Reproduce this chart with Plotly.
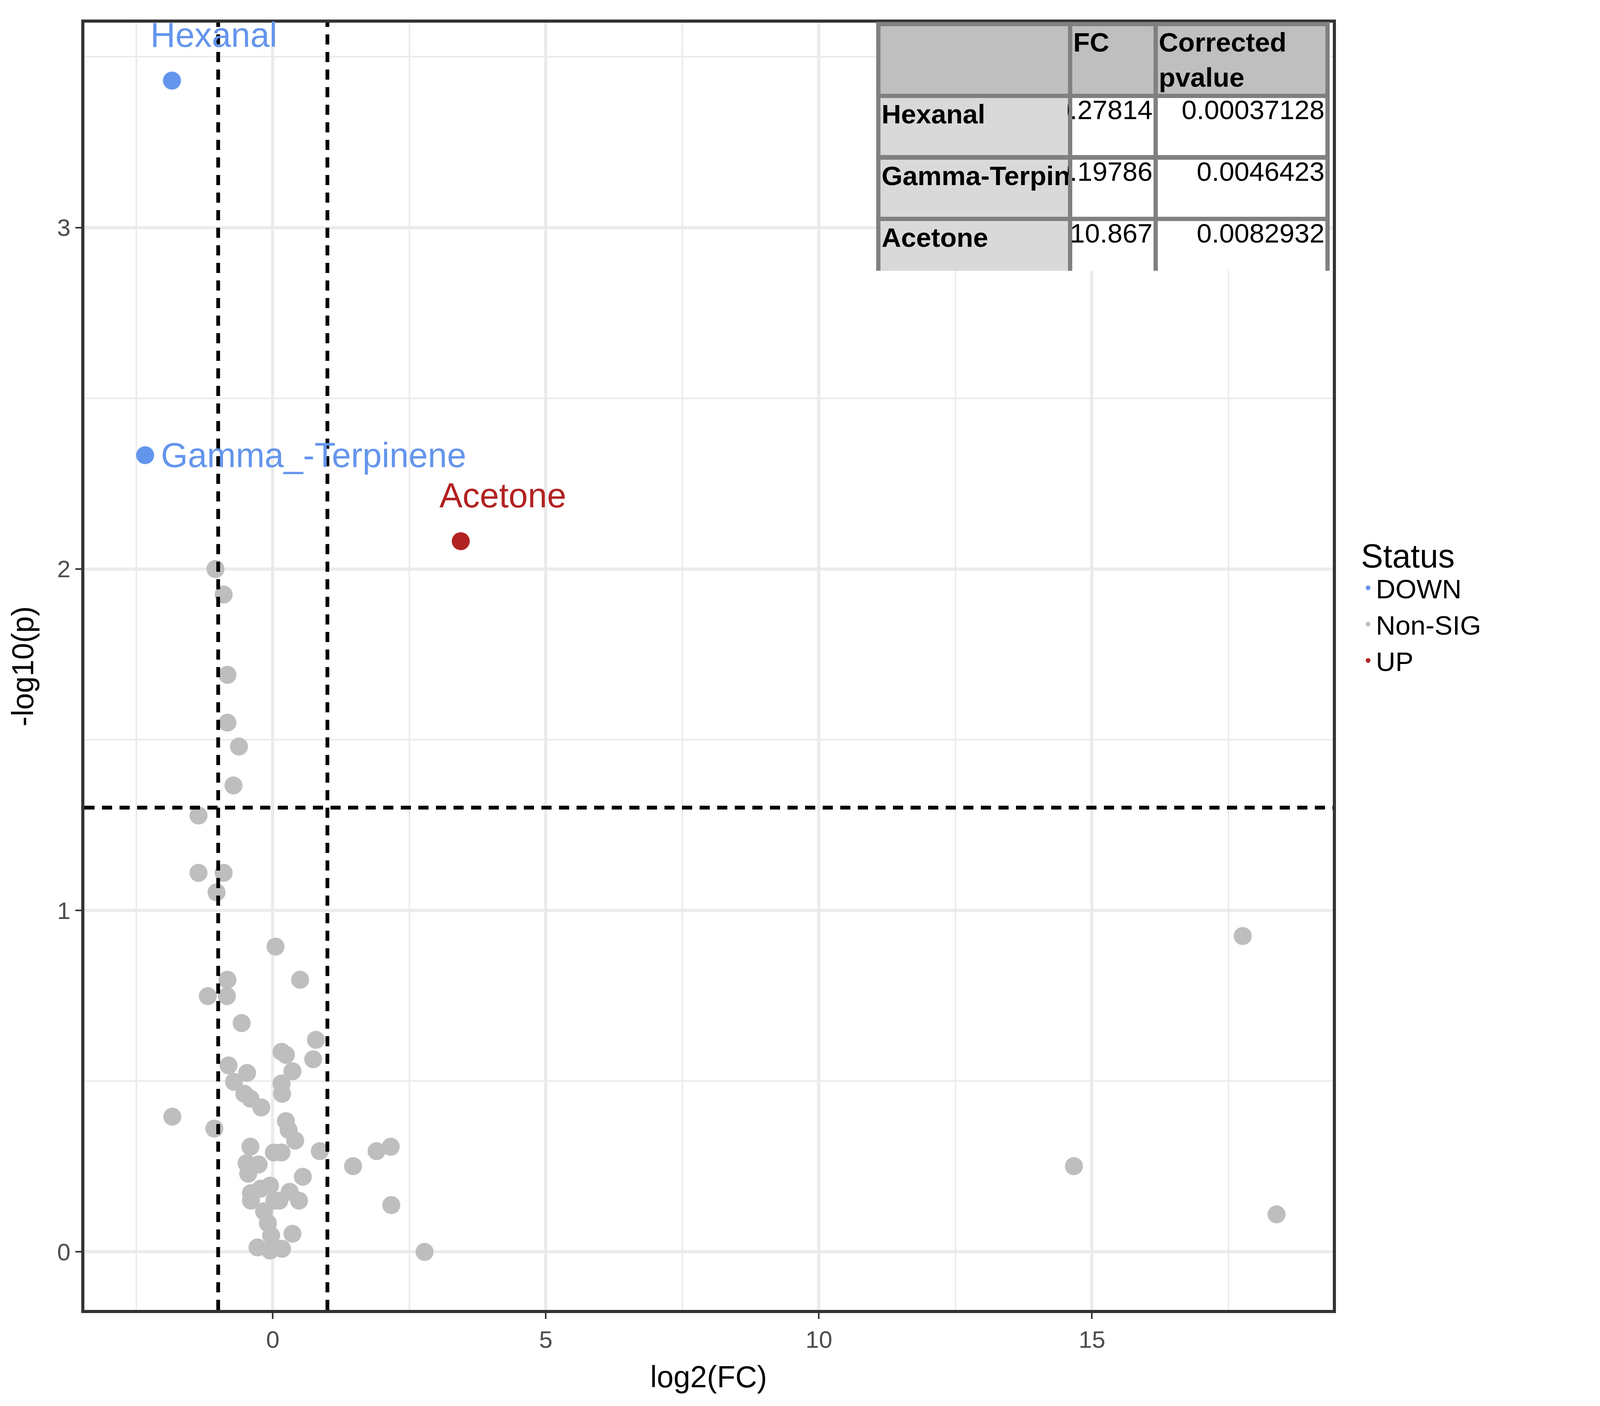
import plotly.graph_objects as go
import numpy as np

S = 6000/1560

# data
sig_names = ["Hexanal", "Gamma_-Terpinene", "Acetone"]
sig_fc = [0.27814, 0.19786, 10.867]
sig_p = [0.00037128, 0.0046423, 0.0082932]
sig_status = ["DOWN", "DOWN", "UP"]

ns_x = [-1.05,-0.90,-0.83,-0.83,-0.62,-0.72,-1.36,-1.36,-0.90,-1.03,0.05,0.50,-0.83,-1.19,-0.84,
        -0.57,0.16,0.24,0.79,0.74,-0.81,-0.47,0.36,-0.71,0.16,0.17,-0.52,-0.41,-0.21,-1.84,-1.07,
        0.24,0.29,0.41,-0.41,0.02,0.16,0.86,1.47,1.90,2.16,-0.48,-0.26,-0.45,0.55,-0.40,-0.05,-0.22,
        0.31,0.48,-0.40,0.03,0.12,2.17,-0.16,-0.09,-0.03,0.36,-0.28,-0.05,0.17,2.78,14.67,17.76,18.38]
ns_y = [2.0,1.925,1.69,1.55,1.48,1.366,1.278,1.11,1.11,1.053,0.894,0.797,0.797,0.749,0.749,
        0.670,0.586,0.577,0.621,0.564,0.546,0.524,0.529,0.498,0.493,0.463,0.463,0.449,0.423,0.396,0.361,
        0.383,0.357,0.326,0.308,0.291,0.291,0.295,0.251,0.295,0.308,0.260,0.256,0.229,0.220,0.172,0.194,0.185,
        0.176,0.150,0.150,0.150,0.150,0.137,0.119,0.084,0.048,0.053,0.013,0.004,0.009,0.0,0.251,0.925,0.110]

table_header = ["", "FC", "Corrected pvalue"]
table_names = ["Hexanal", "Gamma-Terpinene", "Acetone"]
table_fc = ["0.27814", "0.19786", "10.867"]
table_p = ["0.00037128", "0.0046423", "0.0082932"]

sx = np.log2(sig_fc)
sy = -np.log10(sig_p)
colors = {"DOWN": "#6495ED", "Non-SIG": "#BEBEBE", "UP": "#B22222"}
ms = 12*S

fig = go.Figure()
down_idx = [i for i, s in enumerate(sig_status) if s == "DOWN"]
up_idx = [i for i, s in enumerate(sig_status) if s == "UP"]
fig.add_trace(go.Scatter(x=[sx[i] for i in down_idx], y=[sy[i] for i in down_idx], mode="markers",
                         name="DOWN", marker=dict(color=colors["DOWN"], size=ms)))
fig.add_trace(go.Scatter(x=ns_x, y=ns_y, mode="markers", name="Non-SIG",
                         marker=dict(color=colors["Non-SIG"], size=ms)))
fig.add_trace(go.Scatter(x=[sx[i] for i in up_idx], y=[sy[i] for i in up_idx], mode="markers",
                         name="UP", marker=dict(color=colors["UP"], size=ms)))

# table
fs_t = 18*S
fig.add_trace(go.Table(
    domain=dict(x=[0.636, 0.996], y=[0.807, 0.999]),
    columnwidth=[204, 91, 183],
    header=dict(values=["<b>%s</b>" % h for h in table_header], fill_color="#BEBFBE",
                line=dict(color="#808080", width=3*S), align="left",
                font=dict(size=fs_t, color="black", family="Liberation Sans"), height=41*S),
    cells=dict(values=[["<b>%s</b>" % n for n in table_names], table_fc, table_p],
               fill_color=[["#D9D9D9"]*3, ["white"]*3, ["white"]*3],
               line=dict(color="#808080", width=3*S), align=["left", "right", "right"],
               font=dict(size=fs_t, color="black", family="Liberation Sans"), height=41*S),
))

# labels
lab_pos = [(sx[0], sy[0], 28*S, 17*S, "center", "bottom"),
           (sx[1], sy[1], 10*S, 0, "left", "middle"),
           (sx[2], sy[2], 28*S, 17*S, "center", "bottom")]
for i, (x, y, xs, ys, al, va) in enumerate(lab_pos):
    fig.add_annotation(x=x, y=y, text=sig_names[i], showarrow=False, xshift=xs, yshift=ys,
                       xanchor=al, yanchor=va,
                       font=dict(size=23*S, color=colors[sig_status[i]]))

dash = dict(color="black", width=2.5*S, dash="%dpx,%dpx" % (7*S, 5*S))
fig.add_shape(type="line", xref="x", yref="paper", x0=-1, x1=-1, y0=0, y1=1, line=dash)
fig.add_shape(type="line", xref="x", yref="paper", x0=1, x1=1, y0=0, y1=1, line=dash)
fig.add_shape(type="line", xref="paper", yref="y", x0=0, x1=1, y0=-np.log10(0.05), y1=-np.log10(0.05), line=dash)

grid = "#EBEBEB"
fig.update_layout(
    autosize=True, plot_bgcolor="white", paper_bgcolor="white",
    margin=dict(l=208, r=692, t=50, b=254),
    font=dict(family="Liberation Sans", color="black"),
    legend=dict(title=dict(text="Status", font=dict(size=22*S)), font=dict(size=18*S),
                x=1.022, y=0.61, xanchor="left", yanchor="top", itemsizing="constant",
                tracegroupgap=0),
    xaxis=dict(range=[-3.45, 19.41], tick0=0, dtick=5, showgrid=True, gridcolor=grid, gridwidth=2*S,
               minor=dict(dtick=2.5, tick0=0, showgrid=True, gridcolor=grid, gridwidth=1*S),
               zeroline=False, showline=True, mirror=True, linecolor="#333333", linewidth=2*S,
               ticks="outside", ticklen=4*S, tickwidth=1*S, tickcolor="#333333",
               tickfont=dict(size=16*S, color="#4D4D4D"),
               title=dict(text="log2(FC)", font=dict(size=20*S), standoff=10*S)),
    yaxis=dict(range=[-0.17, 3.6], tick0=0, dtick=1, showgrid=True, gridcolor=grid, gridwidth=2*S,
               minor=dict(dtick=0.5, tick0=0, showgrid=True, gridcolor=grid, gridwidth=1*S),
               zeroline=False, showline=True, mirror=True, linecolor="#333333", linewidth=2*S,
               ticks="outside", ticklen=4*S, tickwidth=1*S, tickcolor="#333333",
               tickfont=dict(size=16*S, color="#4D4D4D"),
               title=dict(text="-log10(p)", font=dict(size=20*S), standoff=10*S)),
)
fig.write_html("out.html", default_width="100vw", default_height="100vh")
